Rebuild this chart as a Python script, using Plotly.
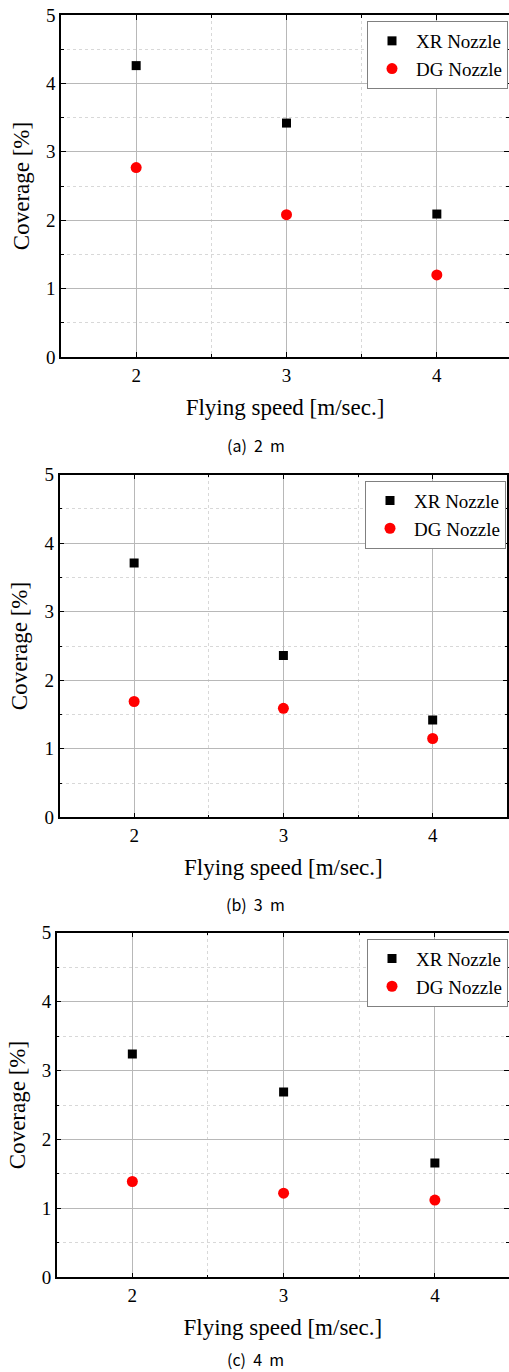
import plotly.graph_objects as go

speed = [2, 3, 4]
xr_2m = [4.26, 3.42, 2.09]
dg_2m = [2.77, 2.08, 1.20]
xr_3m = [3.71, 2.36, 1.42]
dg_3m = [1.69, 1.59, 1.15]
xr_4m = [3.24, 2.69, 1.66]
dg_4m = [1.39, 1.22, 1.12]
captions = ["(a) 2 m", "(b) 3 m", "(c) 4 m"]
series_names = ["XR Nozzle", "DG Nozzle"]
y_ticks = [0, 1, 2, 3, 4, 5]
x_ticks = [2, 3, 4]

W, H = 509, 1372
serif = "Liberation Serif"

# pixel boxes: (left, right, top, bottom, xmax)
panels = [
    (61, 509, 15, 357, 4.48),
    (59.5, 507.3, 474.7, 817.3, 4.5),
    (56.7, 509, 932.7, 1277.3, 4.49),
]
legend_right = [508, 506, 508]
data = [(xr_2m, dg_2m), (xr_3m, dg_3m), (xr_4m, dg_4m)]
cap_ys = [445, 904, 1359]

fig = go.Figure()
for i, ((l, r, t, b, xmax), (xr, dg)) in enumerate(zip(panels, data)):
    n = "" if i == 0 else str(i + 1)
    leg = "legend" + n
    fig.add_trace(go.Scatter(x=speed, y=xr, mode="markers", name=series_names[0],
                             marker=dict(symbol="square", size=9, color="black"),
                             xaxis="x" + n, yaxis="y" + n, legend=leg))
    fig.add_trace(go.Scatter(x=speed, y=dg, mode="markers", name=series_names[1],
                             marker=dict(symbol="circle", size=11, color="#ff0000"),
                             xaxis="x" + n, yaxis="y" + n, legend=leg))
    common = dict(showline=True, linecolor="black", linewidth=1.5, mirror="allticks",
                  ticks="inside", ticklen=5, tickcolor="black", tickwidth=1,
                  showgrid=True, gridcolor="#b8b8b8", gridwidth=1, zeroline=False,
                  automargin=False,
                  tickfont=dict(family=serif, size=19, color="black"),
                  minor=dict(ticks="inside", ticklen=3, tickcolor="black", dtick=0.5,
                             showgrid=True, gridcolor="#d8d8d8", griddash="dot", gridwidth=1))
    fig.layout["xaxis" + n] = dict(
        domain=[l / W, r / W], range=[1.5, xmax], anchor="y" + n,
        tickvals=x_ticks, title=dict(text="Flying speed [m/sec.]",
                                     font=dict(family=serif, size=23, color="black"), standoff=14),
        **common)
    fig.layout["yaxis" + n] = dict(
        domain=[1 - b / H, 1 - t / H], range=[0, 5], anchor="x" + n,
        tickvals=y_ticks, title=dict(text="Coverage [%]",
                                     font=dict(family=serif, size=23, color="black"), standoff=10),
        **common)
    fig.layout[leg] = dict(x=legend_right[i] / W, y=1 - (t + 6) / H, xanchor="right", yanchor="top",
                           bgcolor="white", bordercolor="#808080", borderwidth=1,
                           font=dict(family=serif, size=19, color="black"),
                           tracegroupgap=0, itemwidth=38)
    fig.add_annotation(text=captions[i].replace(" ", "\u00a0\u00a0"), x=256 / W, y=1 - cap_ys[i] / H,
                       xref="paper", yref="paper",
                       showarrow=False, xanchor="center", yanchor="middle",
                       font=dict(family="Noto Sans CJK KR", size=16, color="black"))

fig.update_layout(width=W, height=H, margin=dict(l=0, r=0, t=0, b=0, autoexpand=False),
                  plot_bgcolor="white", paper_bgcolor="white", showlegend=True)
fig.write_html("out.html", config={"displayModeBar": False},
               post_script="document.body.style.margin='0';document.body.style.overflow='hidden';")
